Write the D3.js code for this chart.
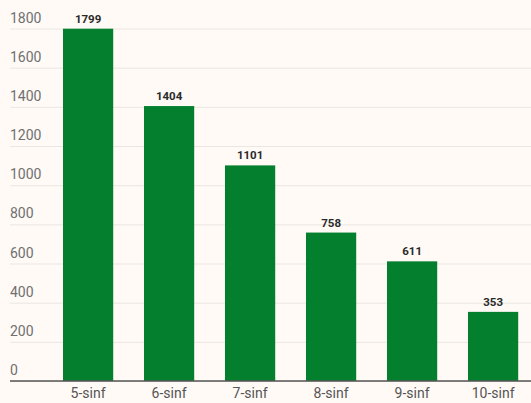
<!DOCTYPE html>
<html>
<head>
<meta charset="utf-8">
<script src="https://cdn.jsdelivr.net/npm/d3@7"></script>
<style>
  html, body { margin: 0; padding: 0; background: #fffaf6; }
  svg { display: block; }
</style>
</head>
<body>
<div id="chart"></div>
<script>
const categories = ["5-sinf", "6-sinf", "7-sinf", "8-sinf", "9-sinf", "10-sinf"];
const values = [1799, 1404, 1101, 758, 611, 353];
const yTicks = [0, 200, 400, 600, 800, 1000, 1200, 1400, 1600, 1800];

const W = 531, H = 403;
const svg = d3.select("#chart").append("svg")
  .attr("width", W).attr("height", H)
  .style("background", "#fffaf6");

const x = d3.scaleBand()
  .domain(categories)
  .range([47.6, 533.6])
  .paddingInner(0.38)
  .paddingOuter(0.19);

const y = d3.scaleLinear()
  .domain([0, 1800])
  .range([381, 28.5]);

// gridlines
const grid = svg.append("g")
  .attr("transform", "translate(10,0)")
  .call(d3.axisLeft(y).tickValues(yTicks).tickSize(-(W - 10)).tickFormat(""));
grid.select(".domain").remove();
grid.selectAll("line").attr("stroke", "#ebe6e1").attr("stroke-width", 1);

// y tick labels (left aligned)
svg.append("g").selectAll("text")
  .data(yTicks)
  .join("text")
  .attr("x", 10)
  .attr("y", d => y(d) - 6)
  .attr("font-family", "Roboto, sans-serif")
  .attr("font-size", 14)
  .attr("fill", "#707070")
  .text(d => d);

// bars
svg.append("g").selectAll("rect")
  .data(values)
  .join("rect")
  .attr("x", (d, i) => x(categories[i]))
  .attr("y", d => y(d))
  .attr("width", x.bandwidth())
  .attr("height", d => y(0) - y(d))
  .attr("fill", "#047f2d");

// value labels
svg.append("g").selectAll("text")
  .data(values)
  .join("text")
  .attr("x", (d, i) => x(categories[i]) + x.bandwidth() / 2)
  .attr("y", d => y(d) - 6)
  .attr("text-anchor", "middle")
  .attr("font-family", "Roboto, sans-serif")
  .attr("font-weight", "bold")
  .attr("font-size", 11.5)
  .attr("fill", "#2a2a2a")
  .text(d => d);

// baseline
svg.append("line")
  .attr("x1", 10).attr("x2", W)
  .attr("y1", y(0)).attr("y2", y(0))
  .attr("stroke", "#555")
  .attr("stroke-width", 1.5);

// x labels
const xAxis = svg.append("g")
  .attr("transform", `translate(0,${y(0)})`)
  .call(d3.axisBottom(x).tickSize(0).tickPadding(7));
xAxis.select(".domain").remove();
xAxis.selectAll("text")
  .attr("font-family", "Roboto, sans-serif")
  .attr("font-size", 14)
  .attr("fill", "#555");
</script>
</body>
</html>
